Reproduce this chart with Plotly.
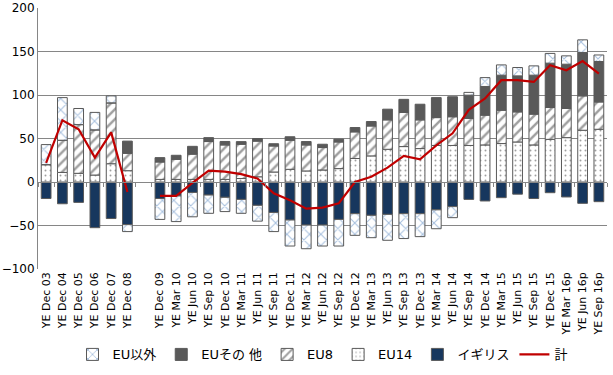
import plotly.graph_objects as go

categories = ["YE Dec 03", "YE Dec 04", "YE Dec 05", "YE Dec 06", "YE Dec 07", "YE Dec 08", " ",
              "YE Dec 09", "YE Mar 10", "YE Jun 10", "YE Sep 10", "YE Dec 10", "YE Mar 11", "YE Jun 11",
              "YE Sep 11", "YE Dec 11", "YE Mar 12", "YE Jun 12", "YE Sep 12", "YE Dec 12", "YE Mar 13",
              "YE Jun 13", "YE Sep 13", "YE Dec 13", "YE Mar 14", "YE Jun 14", "YE Sep 14", "YE Dec 14",
              "YE Mar 15", "YE Jun 15", "YE Sep 15", "YE Dec 15", "YE Mar 16p", "YE Jun 16p", "YE Sep 16p"]

uk = [-19, -25, -23.4, -52.5, -42, -49, None,
      -19, -16, -12, -15, -17.6, -20, -26.8, -35, -43.7, -49.5, -49.5, -43, -36.4, -38.3,
      -37.2, -36.4, -36.4, -32, -28.3, -20, -21.8, -18, -14, -19, -12.3, -17.2, -24.5, -22.6]
eu14 = [20, 11, 10, 8, 21, 13, None,
        3, 3, 3, 3, 3, 4, 6, 11.5, 14.6, 12.7, 13.8, 15.4, 27, 30,
        37.6, 40.7, 38.4, 42, 42, 42, 42.6, 44.2, 46, 42.6, 49, 51, 59.5, 60.6]
eu8 = [0, 37, 56, 52, 70, 20, None,
       20, 23, 29, 43.5, 39.6, 39.4, 41, 29.9, 33.4, 29.9, 25.8, 30.6, 30.6, 34.4,
       33.8, 39.3, 33, 32, 33, 31, 34.2, 38.3, 34.6, 35.4, 36.6, 33.5, 39.5, 31.4]
eu_other = [0, 0, 0, 0, 0, 14, None,
            5, 4.7, 9, 4.5, 4, 3, 3, 2.6, 4, 3.9, 3.8, 3.3, 5, 5.1,
            12.3, 15, 18, 23, 23, 26.8, 33, 40.3, 41.4, 44.8, 51, 50.9, 49.9, 46.5]
non_eu = [23, 49, 18.5, 20, 8, -8, None,
          -24, -29.5, -28, -21, -16.4, -16, -18.2, -22, -29.9, -27.2, -24.1, -30.6, -24.9, -25.7,
          -29.8, -28.6, -26.4, -21.7, -12.7, 3.2, 10.2, 11.8, 9.6, 10.7, 11.2, 9.6, 14.5, 7.5]
total = [22, 71, 60.6, 28, 57, -11.5, None,
         -16, -16, -1, 13, 12, 9, 4, -13, -21, -30.6, -29.5, -24.5, 0, 6,
         16.5, 30, 26, 42, 56, 83, 96, 117, 117, 115, 134.3, 128.5, 139, 124.7]

y_ticks = [-100, -50, 0, 50, 100, 150, 200]

edge = dict(color="#595959", width=1)
fig = go.Figure()

fig.add_trace(go.Bar(x=categories, y=uk, name="イギリス", legendrank=5,
                     marker=dict(color="#17375e", line=edge)))
fig.add_trace(go.Bar(x=categories, y=eu14, name="EU14", legendrank=4,
                     marker=dict(color="white", line=edge,
                                 pattern=dict(shape=".", fgcolor="#404040", bgcolor="white",
                                              size=5, solidity=0.12))))
fig.add_trace(go.Bar(x=categories, y=eu8, name="EU8", legendrank=3,
                     marker=dict(color="white", line=edge,
                                 pattern=dict(shape="/", fgcolor="#404040", bgcolor="white",
                                              size=7, solidity=0.35))))
fig.add_trace(go.Bar(x=categories, y=eu_other, name="EUその 他", legendrank=2,
                     marker=dict(color="#595959", line=edge)))
fig.add_trace(go.Bar(x=categories, y=non_eu, name="EU以外", legendrank=1,
                     marker=dict(color="white", line=edge,
                                 pattern=dict(shape="x", fgcolor="#4f81bd", bgcolor="white",
                                              size=8, solidity=0.25))))
fig.add_trace(go.Scatter(x=categories, y=total, name="計", legendrank=6, mode="lines",
                         line=dict(color="#c00000", width=2.2), connectgaps=False))
# helper trace so the zero-line axis (with boundary ticks) is drawn
fig.add_trace(go.Scatter(x=categories, y=total, xaxis="x2", mode="markers",
                         marker=dict(opacity=0), showlegend=False, hoverinfo="skip"))

font_family = "DejaVu Sans, Noto Sans CJK JP, sans-serif"
fig.update_layout(
    width=613, height=375,
    margin=dict(l=38, r=6, t=8, b=106, autoexpand=False),
    paper_bgcolor="white", plot_bgcolor="white",
    barmode="relative", bargap=0.4,
    font=dict(family=font_family, size=12, color="black"),
    showlegend=True,
    legend=dict(orientation="h", x=0.5, xanchor="center", y=-0.27, yanchor="top",
                font=dict(size=13), itemwidth=30, traceorder="normal"),
    xaxis=dict(type="category", categoryorder="array", categoryarray=categories,
               range=[-0.5, len(categories) - 0.5], automargin=False,
               tickangle=-90, tickfont=dict(size=11), showgrid=False, showline=False,
               ticks="", zeroline=False),
    xaxis2=dict(type="category", categoryorder="array", categoryarray=categories,
                range=[-0.5, len(categories) - 0.5], overlaying="x", anchor="free",
                position=1 / 3, showticklabels=False, showgrid=False, showline=True,
                linecolor="#868686", linewidth=1, ticks="outside", tickson="boundaries",
                ticklen=4, tickcolor="#868686", side="bottom", automargin=False),
    yaxis=dict(range=[-100, 200], tickvals=y_ticks, showgrid=True, gridcolor="#868686",
               gridwidth=1, zeroline=False, showline=True, linecolor="#868686",
               ticks="", tickfont=dict(size=12), automargin=False),
)

fig.write_html("out.html", config={"displayModeBar": False},
               post_script="document.body.style.margin='0';")
